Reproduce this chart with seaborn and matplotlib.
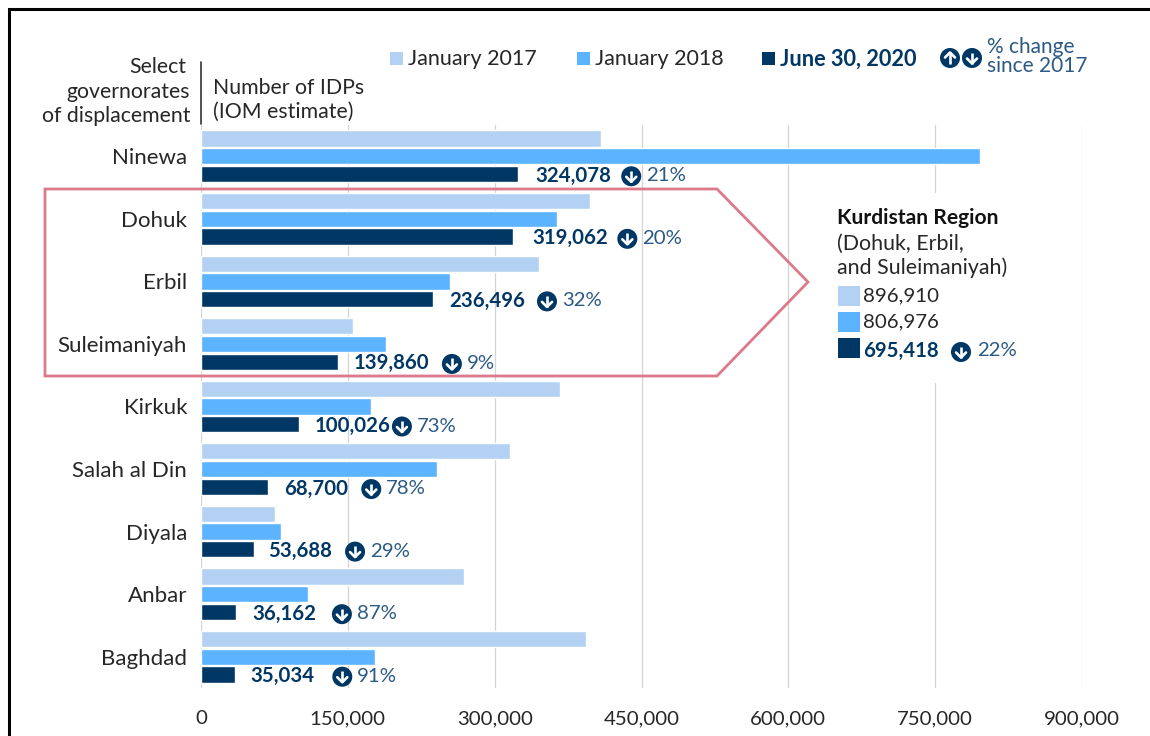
import pandas as pd
import numpy as np
import seaborn as sns
import matplotlib.pyplot as plt
from matplotlib.patches import Circle, Polygon, Rectangle

governorates = ["Ninewa", "Dohuk", "Erbil", "Suleimaniyah", "Kirkuk", "Salah al Din", "Diyala", "Anbar", "Baghdad"]
jan_2017 = [408500, 397000, 345000, 154910, 367000, 316000, 75500, 269000, 393000]
jan_2018 = [795500, 364000, 254000, 188976, 174000, 241000, 82000, 109000, 178000]
jun_2020 = [324078, 319062, 236496, 139860, 100026, 68700, 53688, 36162, 35034]
pct_change = ["21%", "20%", "32%", "9%", "73%", "78%", "29%", "87%", "91%"]
series_names = ["January 2017", "January 2018", "June 30, 2020"]
kurdistan_values = ["896,910", "806,976", "695,418"]
kurdistan_change = "22%"
x_ticks = [0, 150000, 300000, 450000, 600000, 750000, 900000]

# layout, in pixels of the 1150x736 picture
W, H = 1150, 736
label_gap = [17, 19, 16.5, 16, 16, 16, 14.5, 15.5, 15]   # bar end -> value label
icon_gap = [96, 95, 98, 98, 87, 87, 87, 90, 92]          # value label -> arrow icon

LIGHT = "#B3D1F3"
MID = "#5CB3FF"
DARK = "#003764"
PCT = "#2B5A85"
INK = "#262626"
FS = 15.3     # headers and legend
FS_NUM = 14.7  # numbers

sns.set_theme(style="white")
plt.rcParams["font.family"] = ["Lato", "DejaVu Sans"]

df = pd.DataFrame({
    "governorate": governorates * 3,
    "series": np.repeat(series_names, len(governorates)),
    "idps": jan_2017 + jan_2018 + jun_2020,
})

fig = plt.figure(figsize=(W / 100, H / 100), dpi=100)
ax = fig.add_axes([201 / W, 1 - 688 / H, (1082 - 201) / W, (688 - 125) / H])
sns.barplot(data=df, x="idps", y="governorate", hue="series", order=governorates, hue_order=series_names,
            palette=[LIGHT, MID, DARK], saturation=1, width=0.85, gap=0.08, errorbar=None, legend=False,
            ax=ax, zorder=3)

ax.set_xlim(0, 900000)
ax.set_ylim(len(governorates) - 0.5, -0.5)
ax.set_xlabel("")
ax.set_ylabel("")
ax.set_xticks(x_ticks)
ax.set_xticklabels([f"{t:,}" for t in x_ticks], fontsize=FS_NUM, color=INK)
ax.tick_params(axis="x", length=0, pad=16)
ax.tick_params(axis="y", length=0, pad=10, labelsize=16, labelcolor=INK)
ax.xaxis.grid(True, color="#D4D4D4", linewidth=0.9)
ax.set_axisbelow(True)
sns.despine(ax=ax, left=True, bottom=True)

# overlay in picture pixels for the hand placed bits
ov = fig.add_axes([0, 0, 1, 1], zorder=5)
ov.set_xlim(0, W)
ov.set_ylim(H, 0)
ov.axis("off")
ov.patch.set_alpha(0)


def txt(x, y, s, color=INK, weight="normal", ha="left", size=FS):
    ov.text(x, y, s, color=color, fontweight=weight, ha=ha, va="center", fontsize=size)


def icon(x, y, up=False, r=10):
    ov.add_patch(Circle((x, y), r, color=DARK, lw=0))
    d = -1 if up else 1
    ov.plot([x, x], [y - 5.5 * d, y + 5.5 * d], color="white", lw=1.9, solid_capstyle="butt")
    ov.plot([x - 5, x, x + 5], [y + 0.5 * d, y + 5.5 * d, y + 0.5 * d], color="white", lw=1.9)


# hide the 750,000 gridline behind the Kurdistan box
ov.add_patch(Rectangle((830, 193), 200, 190, color="white", lw=0, zorder=0))

# value labels and arrows
for i, val in enumerate(jun_2020):
    px, py = ov.transData.inverted().transform(ax.transData.transform((val, i)))
    py += 19.5
    lx = px + label_gap[i]
    txt(lx, py, f"{val:,}", color=DARK, weight="bold", size=FS_NUM)
    icon(lx + icon_gap[i], py + 0.5)
    txt(lx + icon_gap[i] + 15, py, pct_change[i], color=PCT, size=FS_NUM)

# Kurdistan outline
ov.add_patch(Polygon([(45, 189), (717, 189), (808, 282), (717, 376), (45, 376)], closed=True,
                     fill=False, edgecolor="#DC7A8B", linewidth=2))

# header
ov.plot([201, 201], [62, 124], color="#333333", lw=1.2)
txt(186, 67, "Select", ha="right")
txt(190, 92, "governorates", ha="right")
txt(190, 116, "of displacement", ha="right")
txt(213, 88, "Number of IDPs")
txt(213, 112, "(IOM estimate)")

# legend
for x, c, name, col, w, s in zip([390, 577, 762], [LIGHT, MID, DARK], series_names,
                                 [INK, INK, DARK], ["normal", "normal", "bold"], [15.5, 15.5, 15.7]):
    ov.add_patch(Rectangle((x, 52), 12.5, 12.5, color=c, lw=0))
    txt(x + 18, 59, name, color=col, weight=w, size=s)
icon(950, 58, up=True)
icon(972, 58)
txt(987, 47, "% change", color=PCT, size=15)
txt(987, 66, "since 2017", color=PCT, size=15)

# Kurdistan Region box
txt(837, 218, "Kurdistan Region", color="#111111", weight="bold", size=15.1)
txt(837, 244, "(Dohuk, Erbil,", size=15.4)
txt(837, 268, "and Suleimaniyah)", size=15.4)
for y, c, v in zip([286, 312, 338], [LIGHT, MID, DARK], kurdistan_values):
    ov.add_patch(Rectangle((838, y), 22, 20, color=c, lw=0))
    if c == DARK:
        txt(863, y + 13, v, color=DARK, weight="bold", size=FS_NUM)
    else:
        txt(863, y + 10, v, size=FS_NUM)
icon(961, 352)
txt(977, 351, kurdistan_change, color=PCT, size=FS_NUM)

# frame of the original screenshot
ov.plot([8.5, 8.5, W], [H, 9, 9], color="black", lw=2.2, solid_joinstyle="miter")

fig.savefig("out.png", dpi=100)
